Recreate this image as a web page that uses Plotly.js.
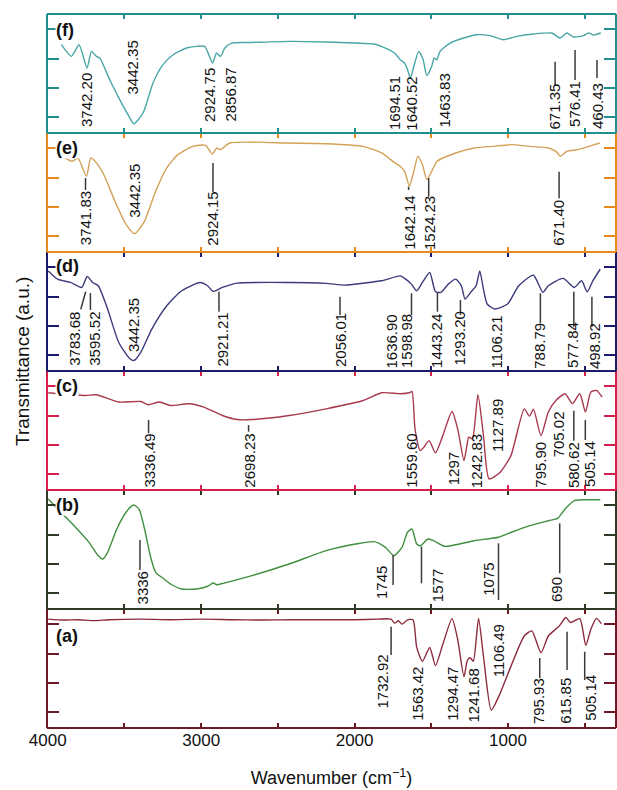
<!DOCTYPE html>
<html><head><meta charset="utf-8">
<script src="https://cdn.plot.ly/plotly-3.0.1.min.js"></script>
<style>html,body{margin:0;padding:0;background:#fff}#chart{width:617px;height:790px}</style>
</head><body><div id="chart"></div>
<script>
// ---------- spectra (wavenumber cm-1, transmittance a.u. 0-100 within panel) ----------
const nuA = [3997,3900,3800,3700,3600,3400,3200,3000,2800,2600,2400,2200,2000,1850,1763,1739,1715,1691,1655,1619,1595,1558,1510,1473,1425,1365,1328,1287,1265,1247,1226,1192,1160,1109,1051,981,894,845,785,737,665,623,593,532,493,460,423,392];
const tA  = [91.5,90.7,91,90.2,91,91.5,91,91.5,91,90.7,91,91,91,91.5,91.5,88.1,90.1,87.3,90.9,90.9,67.7,56.1,67.7,52.4,70.3,91.9,74.5,43.1,56.7,59,56.1,92.1,60.3,15,29.2,51.8,77.3,81.6,63.2,77.3,85.8,92.9,88.7,91.9,69.4,83,92.1,87.7];

const nuB = [3997,3924,3828,3731,3671,3641,3610,3550,3490,3441,3405,3369,3332,3297,3248,3200,3127,3031,2958,2922,2898,2850,2669,2427,2186,1993,1872,1799,1744,1691,1655,1626,1595,1570,1522,1486,1413,1317,1220,1063,978,858,737,677,628,568,495,399];
const tB  = [92.4,82.6,70,56,44.8,42,47.6,67.2,81.3,87.4,84,67.2,44.8,30.8,25.8,21,16.8,16.8,19.1,21.8,20.4,21.8,28,37.8,49,54.6,56.6,51.8,44.8,51.8,64.5,67.2,54.6,53.2,58.8,57.4,52.7,54.6,57.4,60.3,64.5,70,74.2,76.2,84,91,91.8,91.8];

const nuC = [3997,3755,3683,3538,3393,3345,3272,3200,3079,2983,2862,2765,2669,2427,2186,1945,1823,1703,1643,1626,1606,1572,1548,1514,1473,1425,1365,1328,1287,1268,1256,1232,1196,1160,1123,1051,981,894,860,834,785,737,688,628,580,532,495,460,423,387];
const tC  = [81.7,79.4,80,73.9,74.4,71.6,73.9,71,72.5,69.7,62.6,59.2,59.2,62.6,68.2,75.2,81.7,80.9,81.7,82.8,51.4,33.1,36,41.5,31.2,45.7,66,51.4,24.7,37.3,44.4,43,80,45.7,9.3,14.9,28.9,68.2,62,68,45.7,65.5,75.2,80.9,72.5,80.9,65.5,82.3,83.7,78.1];

const nuD = [3997,3936,3852,3779,3743,3707,3671,3610,3538,3465,3437,3393,3321,3224,3127,3007,2958,2922,2862,2765,2427,2186,2065,1945,1823,1703,1667,1630,1595,1558,1510,1473,1437,1389,1341,1304,1280,1244,1208,1184,1160,1136,1087,1003,930,834,773,737,641,568,520,484,447,399];
const tD  = [84.1,77.2,74.4,70.2,79.4,74.4,71.6,52.1,24.2,10.3,8.9,15.9,35.4,54.8,67.4,74.4,71.6,66.9,70.2,73.8,74.4,73.6,72.2,73.8,75.8,79.9,77.2,73,67.4,74.4,82.8,66.6,66.1,73,77.2,71.6,60.5,66.1,71.6,84.1,68.8,56.3,52.1,56.3,71.6,80.5,66.1,71.6,77.8,70.2,75.8,66.6,75.8,85.5];

const nuE = [3888,3840,3804,3748,3719,3683,3635,3562,3490,3434,3369,3297,3224,3152,3055,2971,2927,2898,2874,2814,2429,2188,1947,1823,1751,1703,1674,1643,1619,1587,1558,1529,1497,1462,1341,1220,1099,978,858,737,688,658,617,545,473,402];
const tE  = [79.1,76.2,79.1,63.7,79.1,74.9,65.1,42.7,23.2,15.4,26,51.1,70.7,81.8,88.8,89.6,82.4,87.4,86,91.6,91.6,91,88.8,83.2,76.2,72,67.8,55.3,65.1,80.4,73.5,60.9,67.8,76.2,83.2,87.4,88.8,90.2,88.8,87.4,84.6,80.4,84.6,86,88.8,91.6];

const nuF = [3911,3846,3796,3744,3715,3683,3661,3596,3531,3477,3439,3379,3314,3249,3183,3096,3031,2977,2926,2900,2874,2846,2801,2670,2429,2188,1992,1875,1799,1739,1703,1674,1655,1636,1608,1582,1553,1529,1497,1482,1464,1443,1377,1290,1203,1117,1029,943,834,714,660,617,573,508,475,443,395];
const tF  = [74.2,64.4,74.2,54.6,68.6,64.4,63,44.8,28,15.4,7.8,16.8,42,57.4,65.8,71.4,72.8,72.8,58.8,67.2,64.4,71.4,75.6,76.1,77,76.5,75.6,74.8,71.4,67.2,61.6,58.8,53.2,46.2,58.8,68.6,61.6,48.2,56,63,61.6,68.6,75.6,79.8,82.6,81.8,78.4,81.2,83.2,84,79.8,84,80.7,81.8,84,82.4,84];

// ---------- peak labels ----------
const labelsA = ['1732.92','1563.42','1294.47','1241.68','1106.49','795.93','615.85','505.14'];
const labelsB = ['3336','1745','1577','1075','690'];
const labelsC = ['3336.49','2698.23','1559.60','1297','1242.83','1127.89','795.90','705.02','580.62','505.14'];
const labelsD = ['3783.68','3595.52','3442.35','2921.21','2056.01','1636.90','1598.98','1443.24','1293.20','1106.21','788.79','577.84','498.92'];
const labelsE = ['3741.83','3442.35','2924.15','1642.14','1524.23','671.40'];
const labelsF = ['3742.20','3442.35','2924.75','2856.87','1694.51','1640.52','1463.83','671.35','576.41','460.43'];
const panelNames = ['(a)','(b)','(c)','(d)','(e)','(f)'];

// ---------- layout placement of labels (not data) ----------
const labelPos = {
  A:{x:[1818,1586,1358,1225,1062,804,631,459], y:[15.1,5.3,5.3,4.2,41.8,2.5,2.5,5.3],
     lines:[[1762,85.1,1762,61.3],[793,58.8,793,42],[615,80.9,615,48.7],[500,64.1,500,40.3]]},
  B:{x:[3386,1824,1459,1127,684], y:[3.4,7.6,5,10.3,5],
     lines:[[3399,58,3399,32.8],[1749,45.4,1749,20.2],[1564,52.4,1564,21.6],[1062,55.2,1062,7.6],[663,72,663,30]]},
  C:{x:[3343,2691,1635,1358,1208,1065,789,674,576,468], y:[0.8,0.8,0.8,2.8,0.8,30.8,1.4,26.6,0.8,1.4],
     lines:[[3343,58.8,3343,47.6],[2691,54.6,2691,49],[571,66.6,571,41.4],[496,58.8,496,42]]},
  D:{x:[3822,3692,3444,2867,2095,1762,1661,1466,1315,1075,796,579,439], y:[3.6,3.6,15.1,2.5,2.5,1.3,1.3,1.3,3.6,1.3,1.3,1.3,0.8],
     lines:[[3753,66.6,3785,51.8],[3722,65.5,3722,51.3],[2884,66.6,2884,49.8],[2095,62.4,2095,47.1],[1629,65.3,1629,47.1],[1460,65.5,1460,49.8],[1310,59.7,1310,47.1],[789,65.3,789,40.1],[571,66.6,571,37.2],[453,62.4,453,37.2]]},
  E:{x:[3754,3435,2923,1648,1515,667], y:[4.5,28.3,4.5,0.8,0.8,4.5],
     lines:[[3754,62.2,3754,52.1],[2923,74.8,2923,50.4],[1648,54.9,1648,52.1],[1517,62.2,1517,46.5],[667,67.5,667,45.1]]},
  F:{x:[3751,3448,2949,2815,1736,1635,1414,697,566,420], y:[4.2,31.9,8.4,8.4,1.7,0.8,4.2,2.5,3.9,2.5],
     lines:[[693,59.9,693,40.3],[563,69.7,563,44.5],[420,61.3,420,46.2]]}
};
const panelLabelY = [0.773,0.876,0.876,0.885,0.87,0.866];

const frameColors = ['#6e1a26','#2f3a25','#d61f4a','#1b1b6b','#e8891c','#1f8f8f'];
const curveColors = ['#8c2b3e','#3f8f3f','#a8394f','#3b3b7d','#d3a157','#4aa6a6'];

const FONT = 'Liberation Sans, Arial, Helvetica, sans-serif';
const spectra = [[nuA,tA],[nuB,tB],[nuC,tC],[nuD,tD],[nuE,tE],[nuF,tF]];
const labelSets = [labelsA,labelsB,labelsC,labelsD,labelsE,labelsF];
const posKeys = ['A','B','C','D','E','F'];

const traces = [];
const layout = {
  width:617, height:790,
  margin:{l:47, r:1, t:14, b:62},
  paper_bgcolor:'#fff', plot_bgcolor:'rgba(0,0,0,0)',
  showlegend:false,
  font:{family:FONT, color:'#111'},
  annotations:[], shapes:[]
};
const frameShapes = [];

for (let i=0;i<6;i++){
  const n = 6-i;
  const xa = n===1 ? 'x' : 'x'+n;
  const ya = n===1 ? 'y' : 'y'+n;
  const xk = n===1 ? 'xaxis' : 'xaxis'+n;
  const yk = n===1 ? 'yaxis' : 'yaxis'+n;
  const col = frameColors[i];
  traces.push({type:'scatter', mode:'lines', x:spectra[i][0], y:spectra[i][1],
    xaxis:xa, yaxis:ya, hoverinfo:'skip',
    line:{color:curveColors[i], width:1.4, shape:'spline', smoothing:0.6}});
  layout[xk] = {
    domain:[0,1], anchor:ya, range:[4005,296], autorange:false,
    showline:false, mirror:'ticks',
    ticks:'inside', ticklen:5, tickwidth:2, tickcolor:col,
    tickmode:'linear', tick0:0, dtick:1000,
    minor:{ticks:'inside', tick0:0, dtick:500, ticklen:5, tickwidth:2, tickcolor:col, showgrid:false},
    showticklabels: i===0, showgrid:false, zeroline:false,
    tickfont:{size:17, family:FONT, color:'#111'}
  };
  if (n>1) layout[xk].matches = 'x';
  layout[yk] = {
    domain:[i/6,(i+1)/6], anchor:xa, range:[0,100], autorange:false,
    showline:false, mirror:'ticks',
    ticks:'inside', ticklen:12, tickwidth:2, tickcolor:col,
    tickmode:'array', tickvals:[13.5,38,62.5,87],
    showticklabels:false, showgrid:false, zeroline:false
  };
  if (i===0) {
    layout[xk].title = {text:'Wavenumber (cm<sup>\u22121</sup>)', font:{size:18, family:FONT, color:'#111'}, standoff:22};
  }
  const xd = xa+' domain', yd = ya+' domain';
  const fl = {color:col, width:2};
  frameShapes.push({type:'line', xref:xd, yref:yd, x0:0, x1:0, y0:0, y1:1, line:fl});
  frameShapes.push({type:'line', xref:xd, yref:yd, x0:1, x1:1, y0:0, y1:1, line:fl});
  frameShapes.push({type:'line', xref:xd, yref:yd, x0:0, x1:1, y0:0, y1:0, line:fl});
  if (i===5) frameShapes.push({type:'line', xref:xd, yref:yd, x0:0, x1:1, y0:1, y1:1, line:fl});
  const P = labelPos[posKeys[i]];
  labelSets[i].forEach((t,j)=>{
    layout.annotations.push({text:t, x:P.x[j], y:P.y[j], xref:xa, yref:ya,
      xanchor:'center', yanchor:'bottom', textangle:-90, showarrow:false,
      borderpad:0, font:{size:15, family:FONT, color:'#111'}});
  });
  P.lines.forEach(L=>{
    layout.shapes.push({type:'line', xref:xa, yref:ya, x0:L[0], y0:L[1], x1:L[2], y1:L[3],
      line:{color:'#3a3a3a', width:1.5}});
  });
  layout.annotations.push({text:'<b>'+panelNames[i]+'</b>', xref:xd, yref:yd,
    x:0.0135, y:panelLabelY[i], xanchor:'left', yanchor:'middle', showarrow:false,
    bgcolor:'#fff', borderpad:0, font:{size:18, family:FONT, color:'#111'}});
}
layout.shapes = layout.shapes.concat(frameShapes);
layout.annotations.push({text:'Transmittance (a.u.)', xref:'paper', yref:'paper', x:-0.044, y:0.514,
  xanchor:'center', yanchor:'middle', textangle:-90, showarrow:false,
  font:{size:19, family:FONT, color:'#111'}});

Plotly.newPlot('chart', traces, layout, {displayModeBar:false, staticPlot:true});
</script></body></html>
